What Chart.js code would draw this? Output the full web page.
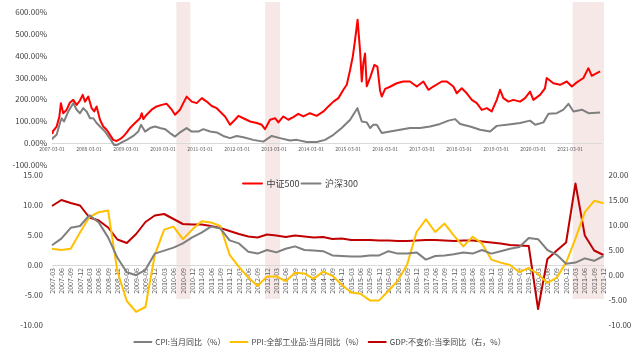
<!DOCTYPE html>
<html><head><meta charset="utf-8">
<script src="https://cdn.jsdelivr.net/npm/chart.js@4"></script>
<style>
html,body{margin:0;padding:0;background:#fff;}
#wrap{position:relative;width:640px;height:356px;overflow:hidden;background:#fff;}
#bottom,#top{position:absolute;left:0;top:0;}
</style></head><body>
<div id="wrap">
<canvas id="bottom" width="640" height="356"></canvas>
<canvas id="top" width="640" height="198"></canvas>
</div>
<script>
// ---------- top panel data (cumulative return, %) ----------
const topTickLabels = ['2007-03-01','2008-03-01','2009-03-01','2010-03-01','2011-03-01','2012-03-01','2013-03-01','2014-03-01','2015-03-01','2016-03-01','2017-03-01','2018-03-01','2019-03-01','2020-03-01','2021-03-01'];

const csi500Dates = ['2007-03-01','2007-03-08','2007-04-16','2007-05-12','2007-05-28','2007-06-20','2007-07-23','2007-08-26','2007-09-28','2007-11-01','2007-12-03','2007-12-30','2008-01-22','2008-02-24','2008-03-27','2008-04-22','2008-05-15','2008-06-18','2008-07-20','2008-08-23','2008-09-25','2008-10-27','2008-11-30','2009-01-02','2009-02-04','2009-03-08','2009-04-10','2009-05-29','2009-07-17','2009-08-04','2009-08-19','2009-09-22','2009-11-10','2009-12-29','2010-02-18','2010-04-07','2010-05-26','2010-06-28','2010-08-16','2010-09-18','2010-10-21','2010-12-10','2011-01-29','2011-03-18','2011-05-06','2011-06-25','2011-08-13','2011-09-15','2011-11-04','2011-12-23','2012-02-11','2012-03-14','2012-05-02','2012-07-08','2012-09-13','2012-11-01','2012-12-03','2013-01-22','2013-03-11','2013-04-13','2013-06-01','2013-07-20','2013-09-08','2013-10-27','2013-12-16','2014-02-20','2014-04-26','2014-07-01','2014-08-19','2014-10-08','2014-11-27','2015-01-15','2015-02-18','2015-03-21','2015-04-17','2015-05-09','2015-06-03','2015-06-28','2015-07-14','2015-07-30','2015-08-16','2015-09-02','2015-10-05','2015-11-17','2015-12-16','2016-01-12','2016-01-29','2016-03-01','2016-04-19','2016-06-24','2016-08-28','2016-11-03','2017-01-09','2017-03-13','2017-05-02','2017-06-20','2017-09-12','2017-11-01','2018-01-05','2018-02-08','2018-03-27','2018-05-15','2018-07-04','2018-08-23','2018-10-11','2018-11-30','2019-01-18','2019-03-07','2019-04-09','2019-05-11','2019-06-30','2019-08-18','2019-10-24','2019-12-12','2020-01-31','2020-03-03','2020-05-08','2020-06-26','2020-07-13','2020-09-17','2020-11-23','2021-01-28','2021-03-17','2021-05-05','2021-07-10','2021-08-28','2021-10-01','2021-11-20','2021-12-22'];
const csi500Values = [45,53,76,119,183,137,152,186,198,175,195,221,190,213,160,145,168,107,76,61,38,15,10,18,30,49,69,92,114,137,110,130,153,168,175,180,153,130,153,183,213,190,183,206,190,170,160,145,122,84,107,125,114,99,92,84,64,107,114,95,122,107,119,134,122,137,125,145,168,190,206,244,267,336,397,473,565,420,282,367,410,260,300,358,350,240,213,248,258,274,282,282,259,282,244,259,282,282,259,228,251,228,198,183,152,160,145,198,244,206,190,198,190,206,236,198,221,251,298,274,267,282,259,278,298,343,308,320,328];

const hs300Dates = ['2007-03-01','2007-03-08','2007-04-16','2007-05-19','2007-06-05','2007-06-28','2007-08-10','2007-09-13','2007-09-28','2007-11-01','2007-12-03','2008-01-05','2008-02-08','2008-03-11','2008-04-13','2008-05-15','2008-06-18','2008-08-07','2008-09-25','2008-11-04','2008-12-06','2009-01-19','2009-03-08','2009-05-12','2009-06-30','2009-07-27','2009-09-06','2009-10-25','2009-12-13','2010-02-01','2010-03-21','2010-05-09','2010-06-28','2010-08-16','2010-10-21','2010-12-10','2011-02-14','2011-04-03','2011-06-08','2011-08-13','2011-10-17','2011-12-23','2012-02-28','2012-05-02','2012-08-09','2012-11-17','2013-02-08','2013-04-29','2013-08-06','2013-10-11','2014-01-19','2014-04-26','2014-07-17','2014-10-08','2014-12-29','2015-03-21','2015-06-01','2015-07-14','2015-09-02','2015-10-05','2015-11-07','2015-12-10','2016-01-29','2016-04-19','2016-07-27','2016-11-03','2017-02-11','2017-05-19','2017-08-26','2017-11-17','2018-01-22','2018-03-11','2018-06-18','2018-09-25','2019-01-02','2019-03-07','2019-06-14','2019-10-24','2020-01-31','2020-03-21','2020-06-11','2020-07-30','2020-10-21','2020-12-26','2021-02-14','2021-04-03','2021-06-25','2021-08-29','2021-12-22'];
const hs300Values = [20,23,38,92,114,99,145,171,183,153,137,160,145,114,114,92,76,53,21,-8,-8,3,15,33,53,84,53,69,76,69,64,46,30,49,69,53,53,64,53,49,33,23,33,27,15,7,33,23,12,15,5,5,15,38,69,107,160,99,95,69,84,84,46,53,61,69,69,76,88,103,110,88,76,61,53,79,84,92,103,84,95,134,137,153,180,145,153,137,140];

// ---------- bottom panel data (quarterly, %) ----------
const quarters = ['2007-03','2007-06','2007-09','2007-12','2008-03','2008-06','2008-09','2008-12','2009-03','2009-06','2009-09','2009-12','2010-03','2010-06','2010-09','2010-12','2011-03','2011-06','2011-09','2011-12','2012-03','2012-06','2012-09','2012-12','2013-03','2013-06','2013-09','2013-12','2014-03','2014-06','2014-09','2014-12','2015-03','2015-06','2015-09','2015-12','2016-03','2016-06','2016-09','2016-12','2017-03','2017-06','2017-09','2017-12','2018-03','2018-06','2018-09','2018-12','2019-03','2019-06','2019-09','2019-12','2020-03','2020-06','2020-09','2020-12','2021-03','2021-06','2021-09','2021-12'];
const cpi = [3.3,4.4,6.2,6.5, 8.3,7.1,4.6,1.2, -1.2,-1.7,-0.8,1.9, 2.4,2.9,3.6,4.6, 5.4,6.4,6.1,4.1, 3.6,2.2,1.9,2.5, 2.1,2.7,3.1,2.5, 2.4,2.3,1.6,1.5, 1.4,1.4,1.6,1.6, 2.3,1.9,1.9,2.1, 0.9,1.5,1.6,1.8, 2.1,1.9,2.5,1.9, 2.3,2.7,3.0,4.5, 4.3,2.5,1.7,0.2, 0.4,1.1,0.7,1.5];
const ppi = [2.7,2.5,2.7,5.4, 8.0,8.8,9.1,-1.1, -6.0,-7.8,-7.0,1.7, 5.9,6.4,4.3,5.9, 7.3,7.1,6.5,1.7, -0.3,-2.1,-3.5,-1.9, -1.9,-2.7,-1.3,-1.4, -2.3,-1.1,-1.8,-3.3, -4.6,-4.8,-5.9,-5.9, -4.3,-2.6,0.1,5.5, 7.6,5.5,6.9,4.9, 3.1,4.7,3.6,0.9, 0.4,0.0,-1.2,-0.5, -1.5,-3.0,-2.1,0.4, 4.4,8.8,10.7,10.3];
const gdp = [13.8,15.0,14.4,13.9, 11.5,10.9,9.5,7.1, 6.4,8.2,10.6,11.9, 12.2,11.2,10.2,10.1, 10.1,9.8,9.4,8.8, 8.2,7.7,7.5,8.1, 7.9,7.6,7.9,7.7, 7.5,7.6,7.2,7.3, 7.0,7.0,7.0,6.9, 6.9,6.8,6.8,6.9, 7.0,7.0,6.9,6.8, 6.9,6.9,6.7,6.5, 6.3,6.0,5.9,5.8, -6.8,3.2,4.9,6.5, 18.3,7.9,4.9,4.0];

// shaded periods, in quarter-index units of the bottom axis
const bandFrom = [13.3, 22.8, 55.7];
const bandTo   = [14.8, 24.4, 59.05];

const FONT = '"Noto Sans CJK SC", "DejaVu Sans", sans-serif';
const toYear = s => { const [y,m,d] = s.split('-').map(Number); return y + (m-1)/12 + (d-1)/365; };
const pts = (dates, vals) => dates.map((d,i) => ({x: toYear(d), y: vals[i]}));

const bandPlugin = {
  id: 'bands',
  beforeDraw(chart) {
    const {ctx} = chart; const x = chart.scales.x;
    ctx.save();
    ctx.fillStyle = '#F7E8E8';
    bandFrom.forEach((f, i) => {
      const x1 = x.getPixelForValue(f), x2 = x.getPixelForValue(bandTo[i]);
      ctx.fillRect(x1, 2, x2 - x1, 297);
    });
    ctx.restore();
  }
};

const lineDs = (label, data, color, extra) => Object.assign({
  label, data, borderColor: color, backgroundColor: color, borderWidth: 2,
  pointRadius: 0, tension: 0, borderJoinStyle: 'round', fill: false
}, extra || {});

// bottom chart (full canvas, also draws shaded bands)
new Chart(document.getElementById('bottom'), {
  type: 'line',
  data: {
    labels: quarters,
    datasets: [
      lineDs('CPI:当月同比（%）', cpi, '#7F7F7F', {yAxisID: 'y'}),
      lineDs('PPI:全部工业品:当月同比（%）', ppi, '#FFC000', {yAxisID: 'y'}),
      lineDs('GDP:不变价:当季同比（右，%）', gdp, '#C00000', {yAxisID: 'y1'})
    ]
  },
  options: {
    responsive: false, animation: false,
    layout: {padding: {top: 175, right: 0, left: 0, bottom: 0}},
    plugins: {
      legend: {position: 'bottom',
        labels: {boxWidth: 17, boxHeight: 0, padding: 5, color: '#404040', font: {family: FONT, size: 8}},
        title: {display: true, text: '', padding: 0, font: {size: 8, lineHeight: 1}}},
      tooltip: {enabled: false}
    },
    scales: {
      x: {position: {y: 0}, afterFit: s => { s.height = 0; },
        grid: {display: true, drawOnChartArea: false, drawTicks: false},
        border: {display: true, color: '#D9D9D9', width: 1},
        ticks: {autoSkip: false, maxRotation: 90, minRotation: 90, padding: 3, color: '#595959', font: {family: FONT, size: 7}}},
      y: {position: 'left', min: -10, max: 15, afterFit: s => { s.width = 52; },
        grid: {display: false, drawTicks: false}, border: {display: false},
        ticks: {stepSize: 5, padding: 9, color: '#404040', font: {family: FONT, size: 8}, callback: v => v.toFixed(2)}},
      y1: {position: 'right', min: -10, max: 20, afterFit: s => { s.width = 36.5; },
        grid: {display: false, drawTicks: false}, border: {display: false},
        ticks: {stepSize: 5, padding: 5, color: '#404040', font: {family: FONT, size: 8}, callback: v => v.toFixed(2)}}
    }
  },
  plugins: [bandPlugin]
});

// top chart (transparent, overlays the bottom canvas)
new Chart(document.getElementById('top'), {
  type: 'line',
  data: {
    datasets: [
      lineDs('中证500', pts(csi500Dates, csi500Values), '#FF0000'),
      lineDs('沪深300', pts(hs300Dates, hs300Values), '#7F7F7F')
    ]
  },
  options: {
    responsive: false, animation: false,
    layout: {padding: {top: 12, right: 39, left: 0, bottom: 0}},
    plugins: {
      legend: {position: 'bottom',
        labels: {boxWidth: 19, boxHeight: 0, padding: 2, color: '#404040', font: {family: FONT, size: 9}},
        title: {display: true, text: '', padding: 0, font: {size: 12, lineHeight: 1}}},
      tooltip: {enabled: false}
    },
    scales: {
      x: {type: 'linear', position: {y: 0}, bounds: 'data',
        min: toYear('2007-03-01'), max: toYear('2021-12-31'),
        afterBuildTicks: s => { s.ticks = topTickLabels.map(l => ({value: toYear(l)})); },
        afterFit: s => { s.height = 0; },
        grid: {display: true, drawOnChartArea: false, drawTicks: false},
        border: {display: true, color: '#D9D9D9', width: 1},
        ticks: {autoSkip: false, maxRotation: 0, minRotation: 0, padding: 3, color: '#595959',
          font: {family: FONT, size: 5}, callback: (v, i) => topTickLabels[i]}},
      y: {min: -100, max: 600, afterFit: s => { s.width = 52; },
        grid: {display: false, drawTicks: false}, border: {display: false},
        ticks: {stepSize: 100, padding: 5, color: '#404040', font: {family: FONT, size: 8},
          callback: v => v.toFixed(2) + '%'}}
    }
  }
});
</script>
</body></html>
